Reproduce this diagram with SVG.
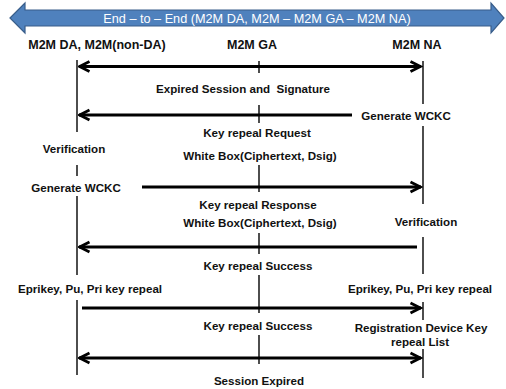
<svg xmlns="http://www.w3.org/2000/svg" width="506" height="389" viewBox="0 0 506 389">
<style>
text{font-family:"Liberation Sans",Arial,sans-serif;font-size:11.6px;fill:#111;text-anchor:middle}
.hd{font-weight:bold;font-size:12.5px}
.t{font-weight:bold}
.life{stroke:#222;stroke-width:1.6;fill:none}
.msg{stroke:#000;stroke-width:3;fill:none}
.banner{fill:#4F81BD;stroke:#385D8A;stroke-width:1.2}
.btxt{fill:#fff;font-size:12.7px}
</style>
<defs>
<marker id="ah" viewBox="0 0 14 14" refX="12.5" refY="7" markerWidth="14" markerHeight="14" markerUnits="userSpaceOnUse" orient="auto-start-reverse">
<path d="M2,2 L12,7 L2,12" fill="none" stroke="#000" stroke-width="2.8" stroke-linejoin="miter"/>
</marker>
</defs>

<g id="banner">
<path class="banner" d="M10,18 L25,3 L25,10 L491,10 L491,3 L504,18 L491,33 L491,26 L25,26 L25,33 Z"/>
<text class="btxt" x="257" y="23">End – to – End (M2M DA, M2M – M2M GA – M2M NA)</text>
</g>

<g id="node-da">
<text class="hd" x="97" y="49">M2M DA, M2M(non-DA)</text>
<path class="life" d="M77,60 V132 M77,165 V176 M77,196 V275 M77,300 V375"/>
</g>
<g id="node-ga">
<text class="hd" x="252" y="49">M2M GA</text>
<path class="life" d="M259,61 V73 M259,105 V123 M259,165 V192 M259,233 V254 M259,275 V313 M259,335 V364"/>
</g>
<g id="node-na">
<text class="hd" x="417" y="49">M2M NA</text>
<path class="life" d="M423,61 V104 M423,126 V204 M423,237 V274 M423,302 V320 M423,349 V378"/>
</g>

<g id="connectors">
<line class="msg" x1="79" y1="66.5" x2="421" y2="66.5" marker-start="url(#ah)" marker-end="url(#ah)"/>
<line class="msg" x1="352" y1="115" x2="79" y2="115" marker-end="url(#ah)"/>
<line class="msg" x1="142" y1="187" x2="421" y2="187" marker-end="url(#ah)"/>
<line class="msg" x1="417" y1="247" x2="79" y2="247" marker-end="url(#ah)"/>
<line class="msg" x1="82" y1="308" x2="421" y2="308" marker-end="url(#ah)"/>
<line class="msg" x1="79" y1="358" x2="421" y2="358" marker-start="url(#ah)" marker-end="url(#ah)"/>
</g>

<g id="labels">
<text class="t" x="243" y="93" xml:space="preserve">Expired Session and  Signature</text>
<text class="t" x="406" y="120">Generate WCKC</text>
<text class="t" x="257" y="137">Key repeal Request</text>
<text class="t" x="260" y="160">White Box(Ciphertext, Dsig)</text>
<text class="t" x="74" y="153">Verification</text>
<text class="t" x="76" y="192">Generate WCKC</text>
<text class="t" x="258" y="209">Key repeal Response</text>
<text class="t" x="260" y="227">White Box(Ciphertext, Dsig)</text>
<text class="t" x="426" y="226">Verification</text>
<text class="t" x="258" y="270">Key repeal Success</text>
<text class="t" x="90" y="293">Eprikey, Pu, Pri key repeal</text>
<text class="t" x="420" y="293">Eprikey, Pu, Pri key repeal</text>
<text class="t" x="258" y="330">Key repeal Success</text>
<text class="t" x="421" y="332">Registration Device Key</text>
<text class="t" x="420" y="346">repeal List</text>
<text class="t" x="259" y="385">Session Expired</text>
</g>
</svg>
